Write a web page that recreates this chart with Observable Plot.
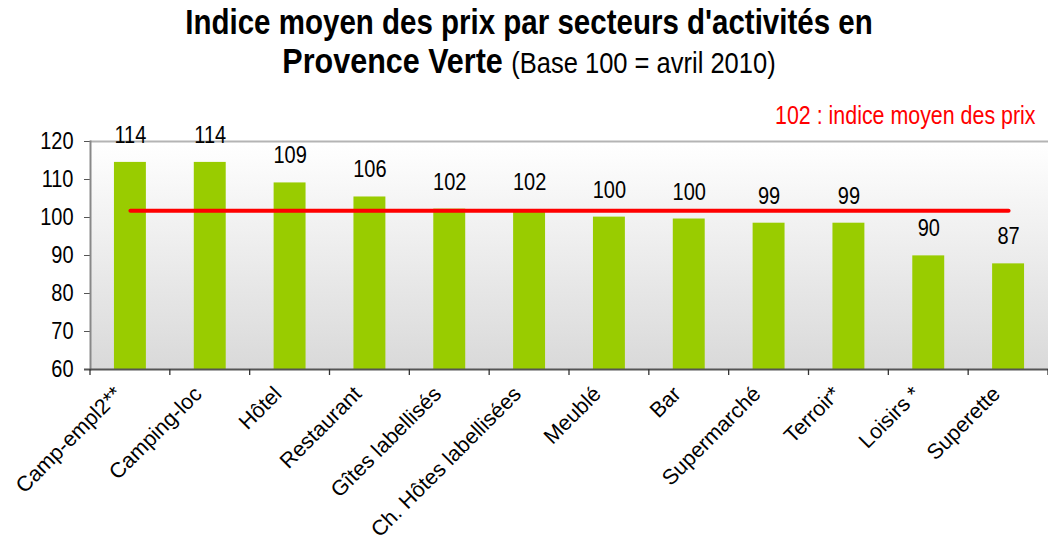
<!DOCTYPE html>
<html>
<head>
<meta charset="utf-8">
<script src="https://cdn.jsdelivr.net/npm/d3@7"></script>
<script src="https://cdn.jsdelivr.net/npm/@observablehq/plot@0.6"></script>
<style>
  html, body { margin: 0; padding: 0; background: #fff; overflow: hidden; }
  body { width: 1048px; height: 542px; font-family: "Liberation Sans", Arial, sans-serif; }
  #header { height: 90px; position: relative; text-align: center; color: #000; }
  #t1, #t2 { position: absolute; left: 0; right: 0; padding-left: 10px; line-height: 32px; white-space: nowrap; transform: scaleY(1.17); }
  #t1 { top: 6px; font-weight: bold; font-size: 29.5px; }
  #t2 { top: 44px; font-size: 30.5px; }
  #t2 b { font-weight: bold; }
  #t2 span { font-size: 25.5px; }
  #chart svg { display: block; }
</style>
</head>
<body>
<div id="header">
  <div id="t1">Indice moyen des prix par secteurs d'activités en</div>
  <div id="t2"><b>Provence Verte</b> <span>(Base 100 = avril 2010)</span></div>
</div>
<div id="chart"></div>
<script>
const categories = ["Camp-empl2**", "Camping-loc", "Hôtel", "Restaurant", "Gîtes labellisés",
  "Ch. Hôtes labellisées", "Meublé", "Bar", "Supermarché", "Terroir*", "Loisirs *", "Superette"];
const values = [114.5, 114.5, 109.1, 105.4, 102.2, 102.1, 100.1, 99.6, 98.5, 98.5, 89.9, 87.8];
const valueLabels = ["114", "114", "109", "106", "102", "102", "100", "100", "99", "99", "90", "87"];
const meanValue = 101.8;
const meanLabel = "102 : indice moyen des prix";
const yTicks = [60, 70, 80, 90, 100, 110, 120];
const yMin = 60, yMax = 120;

const data = categories.map((c, i) => ({cat: c, value: values[i], label: valueLabels[i]}));

const plot = Plot.plot({
  width: 1048,
  height: 452,
  marginTop: 51,
  marginBottom: 173,
  marginLeft: 90,
  marginRight: 0,
  style: {fontFamily: "Liberation Sans, Arial, sans-serif", fontSize: "20px", color: "#000", background: "transparent"},
  x: {domain: categories, paddingInner: 0.6, paddingOuter: 0.3, round: false, label: null},
  y: {domain: [yMin, yMax], label: null},
  marks: [
    Plot.frame({fill: "url(#bgGrad)", stroke: "none"}),
    Plot.ruleY([yMax], {stroke: "#b4b4b4", strokeWidth: 2}),
    Plot.barY(data, {x: "cat", y1: yMin, y2: "value", fill: "#99cc00"}),
    Plot.lineY(categories, {x: d => d, y: () => meanValue, stroke: "#ff0000", strokeWidth: 4, strokeLinecap: "round"}),
    Plot.text(data, {x: "cat", y: "value", text: "label", dy: -27, fontSize: 20, fill: "#000"}),
    Plot.text([meanLabel], {frameAnchor: "top-right", text: d => d, textAnchor: "end", lineAnchor: "bottom", dx: -13, dy: -18, fontSize: 21.4, fill: "#ff0000"}),
    Plot.axisY({ticks: yTicks, tickSize: 6, tickPadding: 11, fontSize: 20, tickFormat: d => String(d), stroke: "#555"}),
    Plot.axisX({tickSize: 0, tickRotate: -45, tickPadding: 21, dx: -12, fontSize: 21.5, label: null}),
    Plot.frame({anchor: "left", stroke: "#888", strokeWidth: 2}),
    Plot.ruleY([yMin], {stroke: "#555", strokeWidth: 2, insetLeft: -6})
  ]
});

const svg = d3.select(plot);

// the reference's horizontal glyphs are drawn slightly taller than wide
svg.selectAll("text").each(function() {
  const t = this.getAttribute("transform") || "";
  if (/rotate/.test(t)) return;
  const m = t.match(/^\s*(translate\([^)]*\))(.*)$/);
  if (m) this.setAttribute("transform", m[1] + " scale(1,1.17)" + m[2]);
});

// gradient definition for the plot background
const defs = svg.insert("defs", ":first-child");
const grad = defs.append("linearGradient").attr("id", "bgGrad").attr("x1", 0).attr("y1", 0).attr("x2", 0).attr("y2", 1);
grad.append("stop").attr("offset", "0%").attr("stop-color", "#ffffff");
grad.append("stop").attr("offset", "100%").attr("stop-color", "#d9d9d9");

// category boundary tick marks, from the library's own scales
const sx = plot.scale("x");
const sy = plot.scale("y");
const half = (sx.step - sx.bandwidth) / 2;
const yBase = sy.apply(yMin);
const bounds = categories.map(c => sx.apply(c) - half);
bounds.push(sx.apply(categories[categories.length - 1]) + sx.bandwidth + half);
svg.append("g").attr("stroke", "#333").attr("stroke-width", 1.3)
  .selectAll("line").data(bounds).join("line")
  .attr("x1", d => d).attr("x2", d => d)
  .attr("y1", yBase).attr("y2", yBase + 6);

document.getElementById("chart").appendChild(plot);
</script>
</body>
</html>
